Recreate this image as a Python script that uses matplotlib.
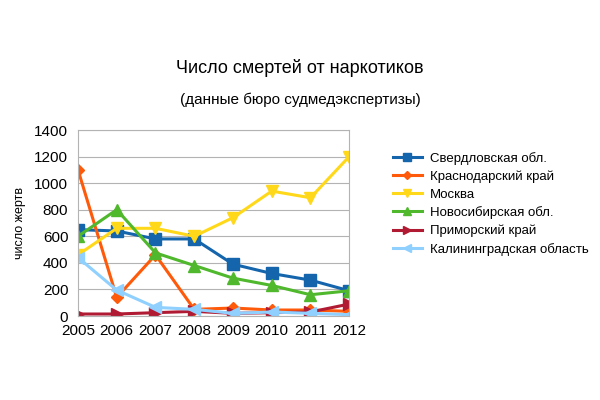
import matplotlib.pyplot as plt

plt.rcParams['font.family'] = ['Liberation Sans', 'DejaVu Sans']

# Данные
years = [2005, 2006, 2007, 2008, 2009, 2010, 2011, 2012]
sverdlovsk = [650, 640, 580, 580, 390, 320, 270, 190]
krasnodar = [1100, 140, 460, 50, 60, 45, 45, 35]
moscow = [460, 660, 660, 600, 740, 940, 890, 1200]
novosibirsk = [600, 800, 475, 380, 285, 230, 160, 190]
primorsky = [15, 15, 25, 35, 20, 25, 30, 90]
kaliningrad = [440, 195, 65, 50, 20, 30, 20, 10]

series = [
    ('Свердловская обл.', sverdlovsk, '#1565ad', 's', 8),
    ('Краснодарский край', krasnodar, '#ff5a0a', 'D', 6),
    ('Москва', moscow, '#ffd81a', 'v', 8),
    ('Новосибирская обл.', novosibirsk, '#4fb82c', '^', 8),
    ('Приморский край', primorsky, '#b01a32', '>', 8),
    ('Калининградская область', kaliningrad, '#8fd0ff', '<', 8),
]

fig = plt.figure(figsize=(6, 4), dpi=100)
ax = fig.add_axes([0.13, 0.21, 0.452, 0.465])

for name, vals, color, marker, ms in series:
    ax.plot(years, vals, color=color, marker=marker, markersize=ms,
            linewidth=2.2, label=name)

ax.set_xlim(2005, 2012)
ax.set_ylim(0, 1400)
ax.set_yticks(range(0, 1401, 200))
ax.set_xticks(years)
ax.tick_params(labelsize=11, length=0)
ax.tick_params(axis='x', pad=6)
ax.tick_params(axis='y', pad=7)
ax.grid(True, axis='y', color='#b3b3b3', linewidth=0.8)
ax.set_axisbelow(True)
for s in ax.spines.values():
    s.set_color('#b3b3b3')
    s.set_linewidth(0.8)
for lab in ax.get_xticklabels() + ax.get_yticklabels():
    lab.set_clip_on(False)

ax.set_ylabel('число жертв', fontsize=9, labelpad=6)

fig.text(0.5, 0.83, 'Число смертей от наркотиков', ha='center', va='center', fontsize=13)
fig.text(0.5, 0.75, '(данные бюро судмедэкспертизы)', ha='center', va='center', fontsize=11)

fig.legend(loc='upper left', bbox_to_anchor=(0.635, 0.65), frameon=False,
           fontsize=9.5, handlelength=2.2, handletextpad=0.6,
           labelspacing=0.42, markerscale=0.7)

fig.savefig('out.png', dpi=100)
